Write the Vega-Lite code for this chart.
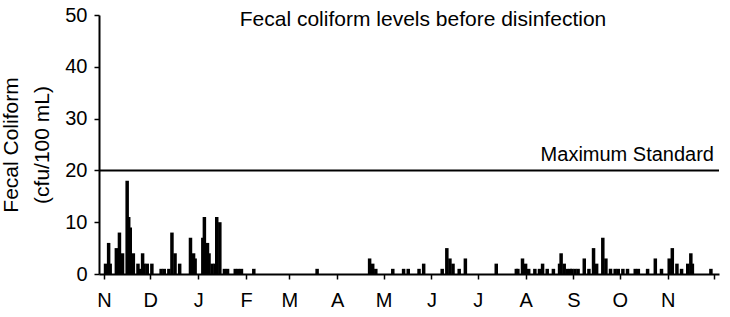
{
  "$schema": "https://vega.github.io/schema/vega-lite/v6.json",
  "width": 620,
  "height": 259,
  "autosize": {"type": "none"},
  "padding": {"left": 99, "top": 15, "right": 11, "bottom": 43},
  "background": "white",
  "config": {"view": {"stroke": null}, "font": "Liberation Sans"},
  "title": {"text": "Fecal coliform levels before disinfection", "fontSize": 21, "fontWeight": "normal", "anchor": "middle", "dx": 14, "dy": 50, "color": "black", "baseline": "bottom"},
  "layer": [
    {
      "data": {"values": [
        {"date": "2000-11-02", "value": 2}, {"date": "2000-11-04", "value": 6}, {"date": "2000-11-05", "value": 2},
        {"date": "2000-11-09", "value": 5}, {"date": "2000-11-10", "value": 1}, {"date": "2000-11-11", "value": 8},
        {"date": "2000-11-13", "value": 4}, {"date": "2000-11-16", "value": 18}, {"date": "2000-11-17", "value": 11},
        {"date": "2000-11-18", "value": 9}, {"date": "2000-11-20", "value": 4}, {"date": "2000-11-23", "value": 2},
        {"date": "2000-11-24", "value": 1}, {"date": "2000-11-26", "value": 4}, {"date": "2000-11-27", "value": 2},
        {"date": "2000-11-29", "value": 2}, {"date": "2000-12-02", "value": 2}, {"date": "2000-12-08", "value": 1},
        {"date": "2000-12-10", "value": 1}, {"date": "2000-12-13", "value": 1}, {"date": "2000-12-15", "value": 8},
        {"date": "2000-12-17", "value": 4}, {"date": "2000-12-20", "value": 2}, {"date": "2000-12-27", "value": 7},
        {"date": "2000-12-29", "value": 4}, {"date": "2000-12-30", "value": 3}, {"date": "2001-01-04", "value": 7},
        {"date": "2001-01-05", "value": 11}, {"date": "2001-01-07", "value": 6}, {"date": "2001-01-08", "value": 4},
        {"date": "2001-01-10", "value": 2}, {"date": "2001-01-12", "value": 2}, {"date": "2001-01-13", "value": 11},
        {"date": "2001-01-15", "value": 10}, {"date": "2001-01-18", "value": 1}, {"date": "2001-01-20", "value": 1},
        {"date": "2001-01-25", "value": 1}, {"date": "2001-01-27", "value": 1}, {"date": "2001-01-29", "value": 1},
        {"date": "2001-02-06", "value": 1}, {"date": "2001-03-19", "value": 1}, {"date": "2001-04-22", "value": 3},
        {"date": "2001-04-24", "value": 2}, {"date": "2001-04-26", "value": 1}, {"date": "2001-05-07", "value": 1},
        {"date": "2001-05-14", "value": 1}, {"date": "2001-05-17", "value": 1}, {"date": "2001-05-24", "value": 1},
        {"date": "2001-05-27", "value": 2}, {"date": "2001-06-08", "value": 1}, {"date": "2001-06-11", "value": 5},
        {"date": "2001-06-13", "value": 3}, {"date": "2001-06-15", "value": 2}, {"date": "2001-06-19", "value": 1},
        {"date": "2001-06-23", "value": 3}, {"date": "2001-07-13", "value": 2}, {"date": "2001-07-26", "value": 1},
        {"date": "2001-07-27", "value": 1}, {"date": "2001-07-30", "value": 3}, {"date": "2001-08-01", "value": 2},
        {"date": "2001-08-03", "value": 1}, {"date": "2001-08-07", "value": 1}, {"date": "2001-08-10", "value": 1},
        {"date": "2001-08-12", "value": 2}, {"date": "2001-08-15", "value": 1}, {"date": "2001-08-19", "value": 1},
        {"date": "2001-08-23", "value": 2}, {"date": "2001-08-24", "value": 4}, {"date": "2001-08-26", "value": 2},
        {"date": "2001-08-28", "value": 1}, {"date": "2001-08-30", "value": 1}, {"date": "2001-08-31", "value": 1},
        {"date": "2001-09-02", "value": 1}, {"date": "2001-09-04", "value": 1}, {"date": "2001-09-08", "value": 3},
        {"date": "2001-09-11", "value": 1}, {"date": "2001-09-14", "value": 5}, {"date": "2001-09-16", "value": 2},
        {"date": "2001-09-20", "value": 7}, {"date": "2001-09-22", "value": 3}, {"date": "2001-09-25", "value": 1},
        {"date": "2001-09-28", "value": 1}, {"date": "2001-09-30", "value": 1}, {"date": "2001-10-03", "value": 1},
        {"date": "2001-10-06", "value": 1}, {"date": "2001-10-11", "value": 1}, {"date": "2001-10-13", "value": 1},
        {"date": "2001-10-19", "value": 1}, {"date": "2001-10-24", "value": 3}, {"date": "2001-10-28", "value": 1},
        {"date": "2001-11-02", "value": 3}, {"date": "2001-11-04", "value": 5}, {"date": "2001-11-07", "value": 2},
        {"date": "2001-11-10", "value": 1}, {"date": "2001-11-14", "value": 2}, {"date": "2001-11-16", "value": 4},
        {"date": "2001-11-17", "value": 2}, {"date": "2001-11-29", "value": 1}
      ]},
      "mark": {"type": "bar", "color": "black", "size": 3.5},
      "encoding": {
        "x": {
          "field": "date", "type": "temporal",
          "scale": {"type": "utc", "domain": [{"year": 2000, "month": 11, "date": 1, "utc": true}, {"year": 2001, "month": 12, "date": 1, "utc": true}]},
          "axis": {
            "title": null, "grid": false, "tickCount": {"interval": "month", "step": 1},
            "labelExpr": "utcyear(datum.value) == 2001 && utcmonth(datum.value) == 11 ? '' : slice(utcFormat(datum.value, '%b'), 0, 1)",
            "labelFontSize": 20, "labelColor": "black", "labelAngle": 0, "labelFlush": false, "labelOverlap": false,
            "labelPadding": 11, "domainColor": "black", "domainWidth": 2, "tickColor": "black", "tickWidth": 1.5, "tickSize": 5
          }
        },
        "y": {
          "field": "value", "type": "quantitative",
          "scale": {"domain": [0, 50]},
          "axis": {
            "values": [0, 10, 20, 30, 40, 50], "grid": false,
            "title": ["Fecal Coliform", "(cfu/100 mL)"], "titleFontSize": 21, "titleFontWeight": "normal", "titleColor": "black",
            "titleLineHeight": 31, "titlePadding": 12,
            "labelFontSize": 20, "labelColor": "black", "labelPadding": 7,
            "domainColor": "black", "domainWidth": 2, "tickColor": "black", "tickWidth": 1.5, "tickSize": 5
          }
        }
      }
    },
    {
      "data": {"values": [{"standard": 20, "label": "Maximum Standard"}]},
      "layer": [
        {"mark": {"type": "rule", "color": "black", "strokeWidth": 2}, "encoding": {"y": {"field": "standard", "type": "quantitative"}}},
        {"mark": {"type": "text", "align": "right", "baseline": "bottom", "dy": -5, "fontSize": 20, "color": "black"},
         "encoding": {
           "x": {"datum": {"year": 2001, "month": 12, "date": 1, "utc": true}, "type": "temporal"},
           "y": {"field": "standard", "type": "quantitative"},
           "text": {"field": "label"}
         }}
      ]
    }
  ]
}
